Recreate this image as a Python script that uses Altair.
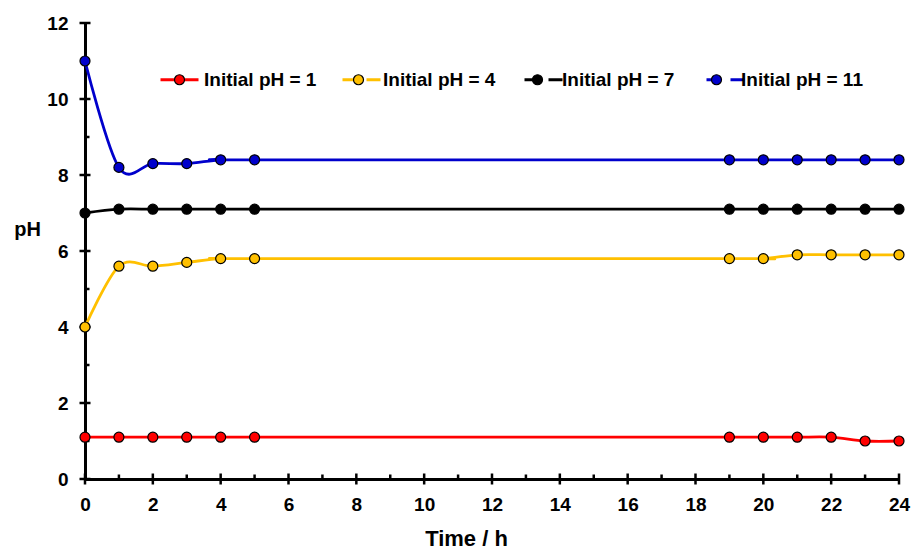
import altair as alt
import pandas as pd

# ---- data ----
time_h = [0, 1, 2, 3, 4, 5, 19, 20, 21, 22, 23, 24]
series_names = ["Initial pH = 1", "Initial pH = 4", "Initial pH = 7", "Initial pH = 11"]
ph_init_1 = [1.1, 1.1, 1.1, 1.1, 1.1, 1.1, 1.1, 1.1, 1.1, 1.1, 1.0, 1.0]
ph_init_4 = [4.0, 5.6, 5.6, 5.7, 5.8, 5.8, 5.8, 5.8, 5.9, 5.9, 5.9, 5.9]
ph_init_7 = [7.0, 7.1, 7.1, 7.1, 7.1, 7.1, 7.1, 7.1, 7.1, 7.1, 7.1, 7.1]
ph_init_11 = [11.0, 8.2, 8.3, 8.3, 8.4, 8.4, 8.4, 8.4, 8.4, 8.4, 8.4, 8.4]
series_colors = ["#FF0000", "#FFC000", "#000000", "#0000CC"]

x_major_ticks = [0, 2, 4, 6, 8, 10, 12, 14, 16, 18, 20, 22, 24]
x_minor_ticks = [1, 3, 5, 7, 9, 11, 13, 15, 17, 19, 21, 23]
y_major_ticks = [0, 2, 4, 6, 8, 10, 12]
y_minor_ticks = [1, 3, 5, 7, 9, 11]

rows = []
for name, vals in zip(series_names, [ph_init_1, ph_init_4, ph_init_7, ph_init_11]):
    for t, v in zip(time_h, vals):
        rows.append({"time": t, "ph": v, "series": name, "series2": name})
df = pd.DataFrame(rows)

FONT = "Liberation Sans"
xscale = alt.Scale(domain=[0, 24], nice=False, zero=False)
yscale = alt.Scale(domain=[0, 12], nice=False, zero=False)

legend_common = dict(
    orient="none", direction="horizontal", legendX=85, legendY=47,
    title=None, padding=0, symbolSize=100, labelOffset=15, columnPadding=19,
    labelFont=FONT, labelFontSize=19, labelFontWeight="bold", labelColor="black",
    symbolOpacity=1, labelLimit=300,
)

x_axis = alt.Axis(values=x_major_ticks, title="Time / h")
y_axis = alt.Axis(values=y_major_ticks, title="pH")

lines = alt.Chart(df).mark_line(interpolate="cardinal", strokeWidth=2.8).encode(
    x=alt.X("time:Q", scale=xscale, axis=x_axis),
    y=alt.Y("ph:Q", scale=yscale, axis=y_axis),
    color=alt.Color(
        "series:N",
        scale=alt.Scale(domain=series_names, range=series_colors),
        legend=alt.Legend(symbolType="M-3.8,0H-1M1,0H3.8", symbolStrokeWidth=2.8,
                          symbolFillColor="transparent", labelOpacity=0,
                          zindex=0, **legend_common),
    ),
)

points = alt.Chart(df).mark_point(
    filled=True, size=100, stroke="black", strokeWidth=1.2, opacity=1, shape="circle"
).encode(
    x=alt.X("time:Q", scale=xscale, axis=x_axis),
    y=alt.Y("ph:Q", scale=yscale, axis=y_axis),
    fill=alt.Fill(
        "series2:N", sort=series_names,
        scale=alt.Scale(range=series_colors),
        legend=alt.Legend(
            symbolType="M-3.96,0L-3.96,0M3.96,0L3.96,0M1,0A1,1 0 1,1 -1,0A1,1 0 1,1 1,0Z",
            symbolStrokeColor="black", symbolStrokeWidth=1.2, zindex=1, **legend_common),
    ),
)

tick_x_major = pd.DataFrame({"v": x_major_ticks, "base": [0] * len(x_major_ticks)})
tick_x_minor = pd.DataFrame({"v": x_minor_ticks, "base": [0] * len(x_minor_ticks)})
tick_y_major = pd.DataFrame({"v": y_major_ticks, "base": [0] * len(y_major_ticks)})
tick_y_minor = pd.DataFrame({"v": y_minor_ticks, "base": [0] * len(y_minor_ticks)})

xmaj = alt.Chart(tick_x_major).mark_tick(
    orient="vertical", size=11, thickness=2.5, color="black", opacity=1
).encode(x=alt.X("v:Q", scale=xscale, axis=x_axis), y=alt.Y("base:Q", scale=yscale, axis=y_axis))

xmin = alt.Chart(tick_x_minor).mark_tick(
    orient="vertical", size=4, thickness=2.5, color="black", opacity=1, yOffset=-2.5
).encode(x=alt.X("v:Q", scale=xscale, axis=x_axis), y=alt.Y("base:Q", scale=yscale, axis=y_axis))

ymaj = alt.Chart(tick_y_major).mark_tick(
    orient="horizontal", size=11, thickness=2.5, color="black", opacity=1
).encode(y=alt.Y("v:Q", scale=yscale, axis=y_axis), x=alt.X("base:Q", scale=xscale, axis=x_axis))

ymin = alt.Chart(tick_y_minor).mark_tick(
    orient="horizontal", size=4, thickness=2.5, color="black", opacity=1, xOffset=2.5
).encode(y=alt.Y("v:Q", scale=yscale, axis=y_axis), x=alt.X("base:Q", scale=xscale, axis=x_axis))

chart = alt.layer(xmaj, xmin, ymaj, ymin, lines, points).resolve_scale(
    color="independent", fill="independent"
).properties(
    width=814, height=456,
    padding={"left": 85, "top": 23, "right": 12, "bottom": 71},
    autosize="none",
).configure_view(stroke=None).configure_axis(
    grid=False, domainColor="black", domainWidth=3, ticks=False, tickSize=0,
    labelFont=FONT, labelFontSize=19, labelFontWeight="bold", labelColor="black",
    titleFont=FONT, titleFontWeight="bold", titleColor="black",
).configure_axisX(
    labelPadding=16, titleFontSize=22,
    titleX=381, titleY=66, titleBaseline="alphabetic", titleAlign="center",
    labelFlush=False, labelOverlap=False,
).configure_axisY(
    labelPadding=17, titleFontSize=20, titleAngle=0,
    titleX=-58, titleY=212, titleBaseline="alphabetic", titleAlign="center",
    labelOverlap=False,
)

chart.save("out.html", embed_options={"renderer": "svg", "actions": False})
